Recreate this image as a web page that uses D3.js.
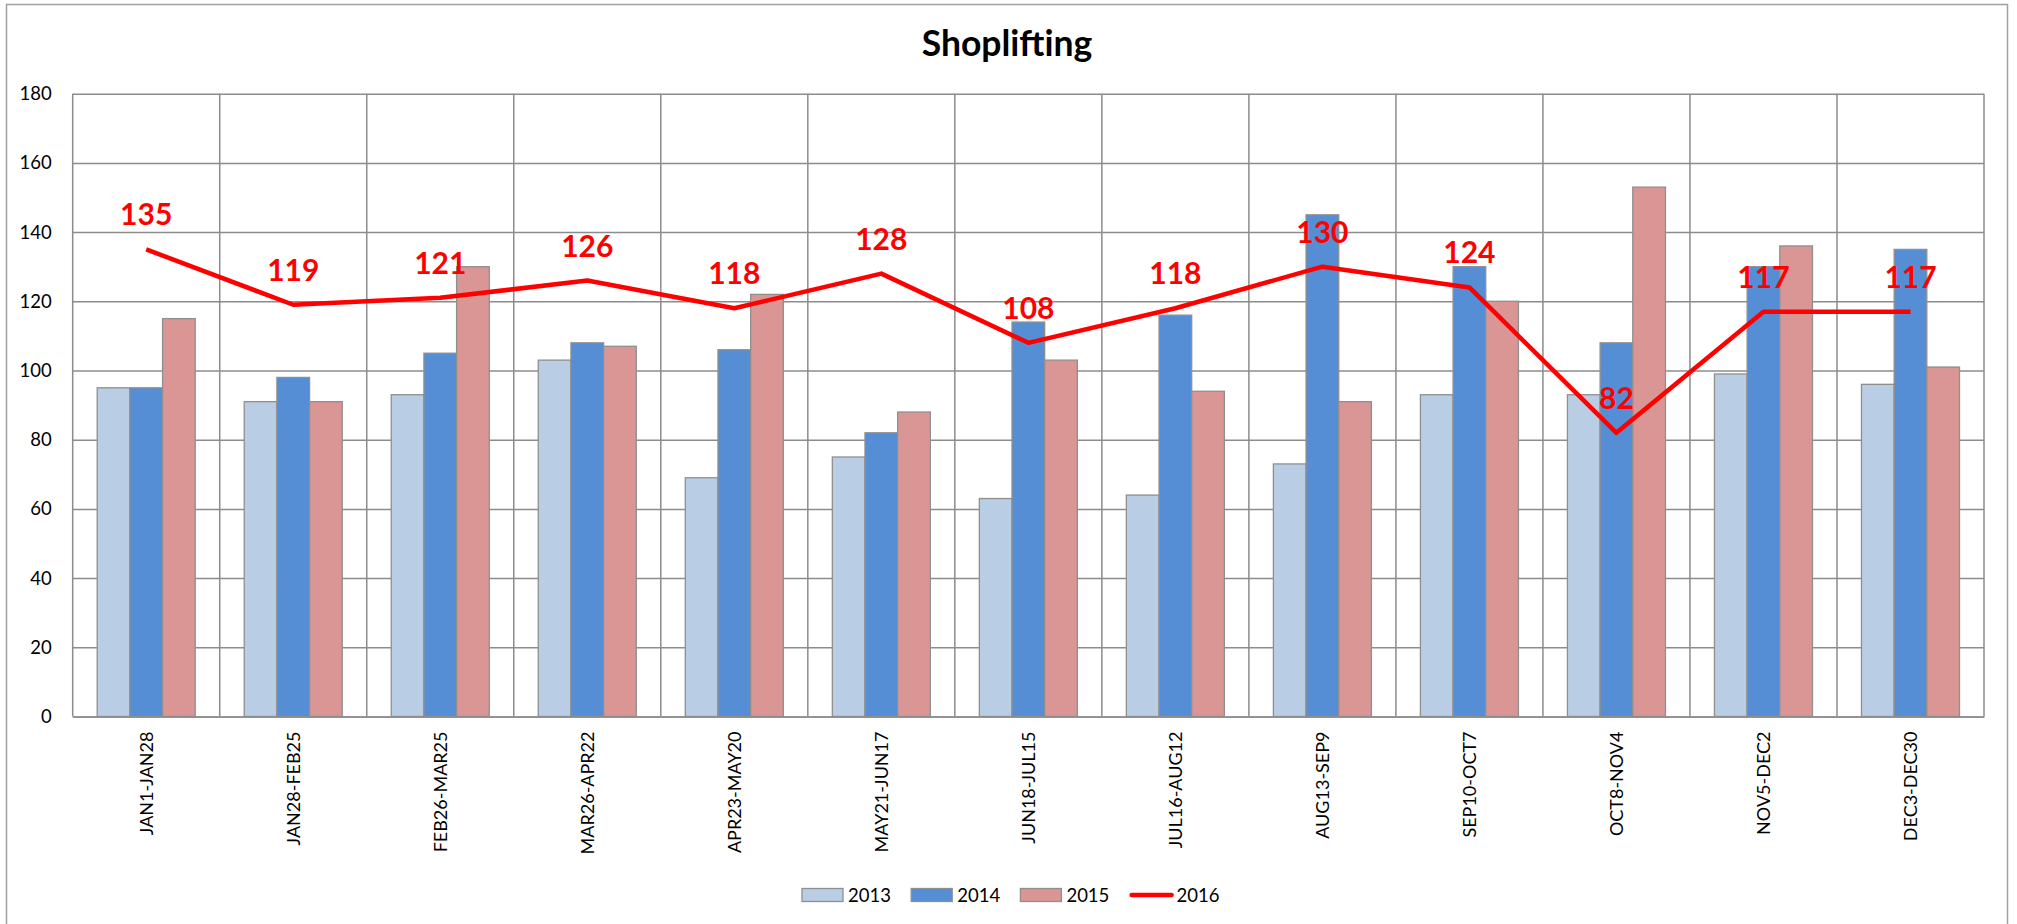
<!DOCTYPE html>
<html>
<head>
<meta charset="utf-8">
<script src="https://cdnjs.cloudflare.com/ajax/libs/d3/7.8.5/d3.min.js"></script>
<style>
  body { margin: 0; background: #fff; }
  text { font-family: "Lato", "Open Sans", sans-serif; fill: #000; }
  .grid line { stroke: #8c8c8c; stroke-width: 1.5; }
  .bar { stroke: #8f8f8f; stroke-width: 1.3; }
</style>
</head>
<body>
<div id="chart"></div>
<script>
//*********************** DATA ***********************
var categories = ["JAN1-JAN28", "JAN28-FEB25", "FEB26-MAR25", "MAR26-APR22", "APR23-MAY20",
                  "MAY21-JUN17", "JUN18-JUL15", "JUL16-AUG12", "AUG13-SEP9", "SEP10-OCT7",
                  "OCT8-NOV4", "NOV5-DEC2", "DEC3-DEC30"];
var barSeries = ["2013", "2014", "2015"];
var v2013 = [95, 91, 93, 103, 69, 75, 63, 64, 73, 93, 93, 99, 96];
var v2014 = [95, 98, 105, 108, 106, 82, 114, 116, 145, 130, 108, 130, 135];
var v2015 = [115, 91, 130, 107, 122, 88, 103, 94, 91, 120, 153, 136, 101];
var v2016 = [135, 119, 121, 126, 118, 128, 108, 118, 130, 124, 82, 117, 117];
var yTicks = [0, 20, 40, 60, 80, 100, 120, 140, 160, 180];
var legendNames = ["2013", "2014", "2015", "2016"];

//*********************** DECLARE VARIABLES ***********************
var width = 2017,
    height = 924,
    margin = {top: 93.7, bottom: 207.5, left: 72.7, right: 33},
    plotw = width - margin.left - margin.right,
    ploth = height - margin.top - margin.bottom,
    colors = {"2013": "#b9cde5", "2014": "#558ed5", "2015": "#d99694", "2016": "#ff0000"};

var barValues = {"2013": v2013, "2014": v2014, "2015": v2015};

var xScale = d3.scaleBand().domain(categories)
      .range([margin.left, margin.left + plotw]).padding(0),
    xInner = d3.scaleBand().domain(barSeries)
      .range([0, xScale.bandwidth()]).paddingInner(0).paddingOuter(0.75),
    yScale = d3.scaleLinear().domain([0, 180])
      .range([margin.top + ploth, margin.top]);

var svg = d3.select("#chart").append("svg")
    .attr("width", width)
    .attr("height", height);

// outer chart frame (bottom edge runs off the picture)
svg.append("rect")
    .attr("x", 6.5).attr("y", 4.5)
    .attr("width", 2001).attr("height", 940)
    .attr("fill", "none")
    .attr("stroke", "#a0a0a0")
    .attr("stroke-width", 1.5);

//*********************** TITLE ***********************
svg.append("text")
    .attr("x", 1007)
    .attr("y", 56)
    .attr("text-anchor", "middle")
    .style("font-size", "35.5px")
    .style("font-weight", "bold")
    .text("Shoplifting");

//*********************** GRID + AXES ***********************
var yAxis = d3.axisLeft(yScale)
    .tickValues(yTicks)
    .tickSizeInner(-plotw)
    .tickSizeOuter(0)
    .tickPadding(21);

svg.append("g")
    .attr("class", "grid y")
    .attr("transform", "translate(" + margin.left + ",0)")
    .call(yAxis)
    .call(function(g) { g.select(".domain").remove(); })
    .selectAll("text")
    .style("font-size", "18.5px");

// vertical grid lines on category boundaries
var bounds = categories.map(function(c) { return xScale(c); }).concat([margin.left + plotw]);
svg.append("g")
    .attr("class", "grid x")
    .selectAll("line")
    .data(bounds)
    .enter()
    .append("line")
    .attr("x1", function(d) { return d; })
    .attr("x2", function(d) { return d; })
    .attr("y1", yScale(180))
    .attr("y2", yScale(0));

//*********************** BARS ***********************
var groups = svg.append("g").selectAll("g")
    .data(categories)
    .enter()
    .append("g")
    .attr("transform", function(d) { return "translate(" + xScale(d) + ",0)"; });

groups.selectAll("rect")
    .data(function(d, i) {
      return barSeries.map(function(s) { return {key: s, value: barValues[s][i]}; });
    })
    .enter()
    .append("rect")
    .attr("class", "bar")
    .attr("x", function(d) { return xInner(d.key); })
    .attr("y", function(d) { return yScale(d.value); })
    .attr("width", xInner.bandwidth())
    .attr("height", function(d) { return yScale(0) - yScale(d.value); })
    .attr("fill", function(d) { return colors[d.key]; });

// category axis with rotated labels
var xAxis = d3.axisBottom(xScale).tickSize(0);
svg.append("g")
    .attr("class", "grid xaxis")
    .attr("transform", "translate(0," + yScale(0) + ")")
    .call(xAxis)
    .call(function(g) {
      g.select(".domain").attr("stroke", "#8c8c8c").attr("stroke-width", 1.5);
    })
    .selectAll("text")
    .attr("transform", "rotate(-90)")
    .attr("x", -15)
    .attr("y", 0)
    .attr("dy", "0.35em")
    .style("text-anchor", "end")
    .style("font-size", "18px");

//*********************** 2016 LINE ***********************
var line = d3.line()
    .x(function(d, i) { return xScale(categories[i]) + xScale.bandwidth() / 2; })
    .y(function(d) { return yScale(d); });

svg.append("path").datum(v2016)
    .attr("d", line)
    .attr("fill", "none")
    .attr("stroke", colors["2016"])
    .attr("stroke-width", 4.5)
    .attr("stroke-linejoin", "round");

svg.append("g").selectAll("text")
    .data(v2016)
    .enter()
    .append("text")
    .attr("x", function(d, i) { return xScale(categories[i]) + xScale.bandwidth() / 2; })
    .attr("y", function(d) { return yScale(d) - 24; })
    .attr("text-anchor", "middle")
    .style("font-size", "30px")
    .style("font-weight", "bold")
    .style("fill", colors["2016"])
    .text(function(d) { return d; });

//*********************** LEGEND ***********************
var legend = svg.append("g")
    .attr("transform", "translate(802,895)");

var item = legend.selectAll("g")
    .data(legendNames)
    .enter()
    .append("g")
    .attr("transform", function(d, i) { return "translate(" + (i * 109.2) + ",0)"; });

item.filter(function(d) { return d !== "2016"; })
    .append("rect")
    .attr("x", 0).attr("y", -6.5)
    .attr("width", 41).attr("height", 13)
    .attr("fill", function(d) { return colors[d]; })
    .attr("stroke", "#8f8f8f")
    .attr("stroke-width", 1.3);

item.filter(function(d) { return d === "2016"; })
    .append("line")
    .attr("x1", 2).attr("x2", 42)
    .attr("y1", 0).attr("y2", 0)
    .attr("stroke", colors["2016"])
    .attr("stroke-width", 4.5)
    .attr("stroke-linecap", "round");

item.append("text")
    .attr("x", function(d) { return d === "2016" ? 47 : 46; })
    .attr("y", 0)
    .attr("dy", "0.36em")
    .style("font-size", "18.5px")
    .text(function(d) { return d; });
</script>
</body>
</html>
